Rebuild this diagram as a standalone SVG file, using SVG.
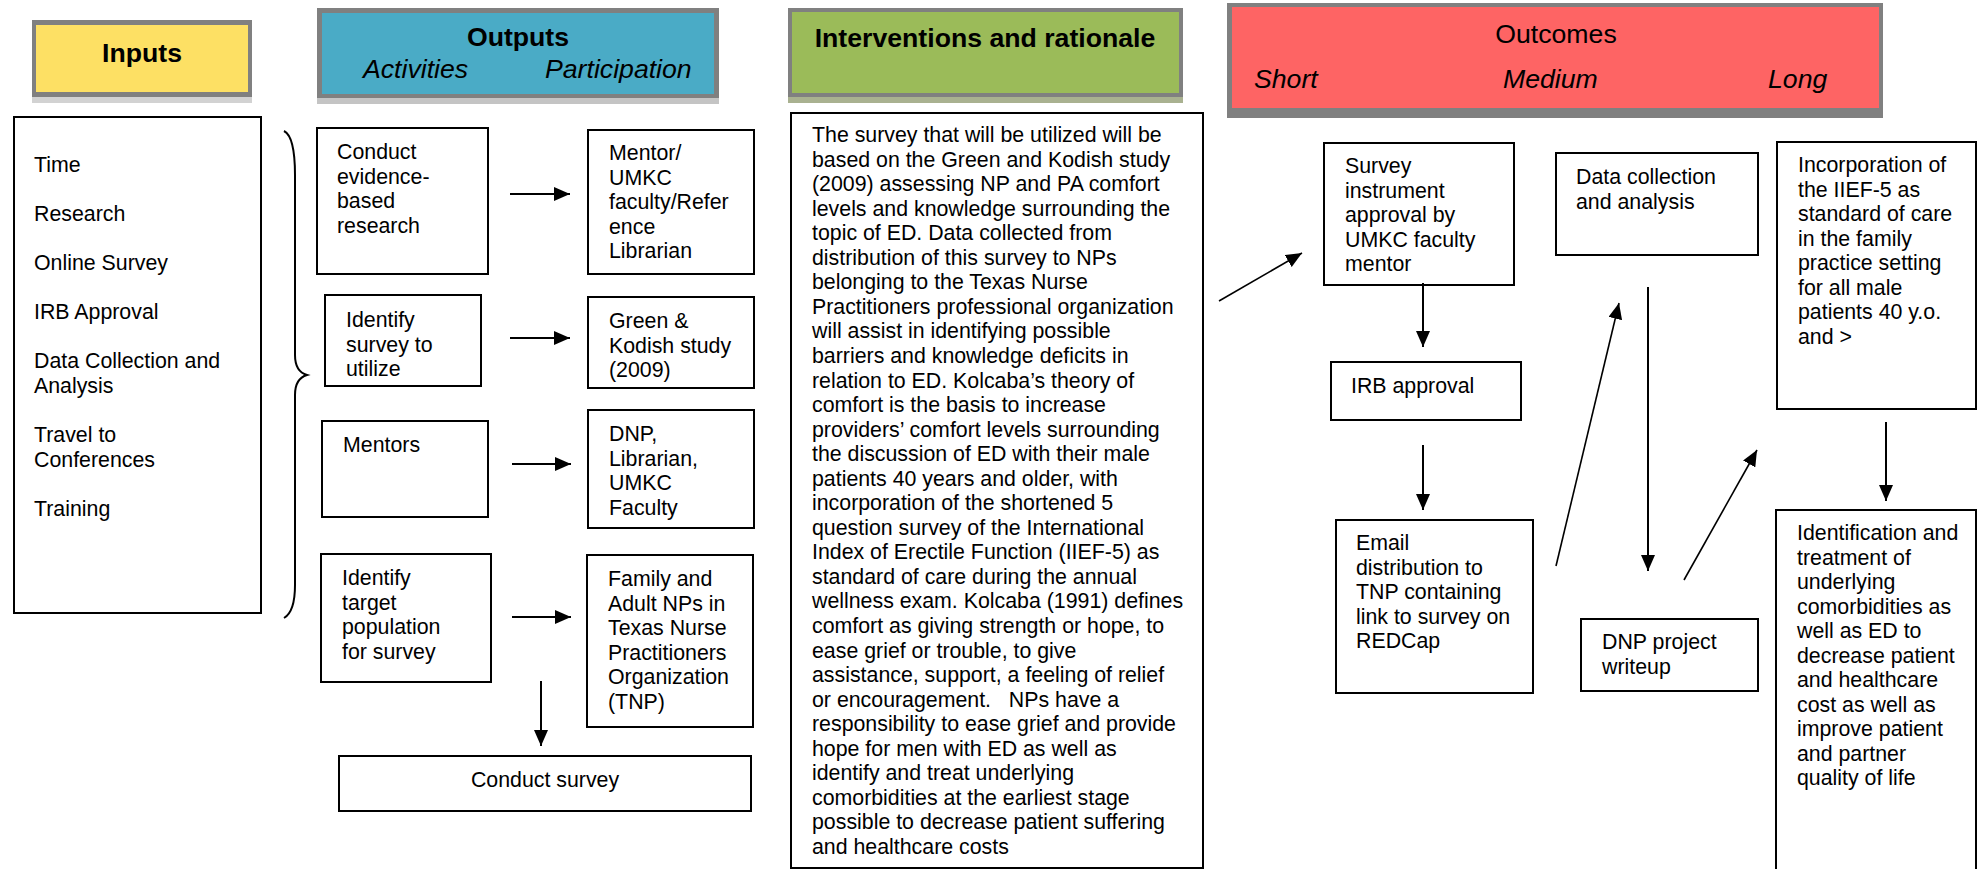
<svg xmlns="http://www.w3.org/2000/svg" width="1979" height="869" viewBox="0 0 1979 869">
<style>
  text { font-family: "Liberation Sans", Arial, sans-serif; fill: #000; }
  .t { font-size: 21.33px; }
  .h { font-size: 26.67px; }
  .b { font-weight: bold; }
  .i { font-style: italic; }
  .box { fill: #fff; stroke: #000; stroke-width: 2; }
  .frame { fill: #808080; }
  .conn line { stroke: #000; stroke-width: 2; }
  .conn path { fill: none; stroke: #000; stroke-width: 2; }
  .thin { stroke-width: 1.6 !important; }
</style>
<defs>
  <marker id="ah" markerUnits="userSpaceOnUse" markerWidth="16" markerHeight="14" refX="16" refY="7" orient="auto">
    <path d="M0,0 L16,7 L0,14 z" fill="#000"/>
  </marker>
</defs>
<rect width="1979" height="869" fill="#fff"/>

<!-- Headers -->
<g id="hdr-inputs">
  <rect x="32" y="97" width="220" height="6" fill="#d2d2d2"/>
  <rect class="frame" x="32" y="20" width="220" height="77"/>
  <rect x="36" y="25" width="212" height="67" fill="#fde064"/>
  <text class="h b" x="142" y="62" text-anchor="middle">Inputs</text>
</g>
<g id="hdr-outputs">
  <rect x="317" y="98" width="402" height="6" fill="#c4c4c4"/>
  <rect class="frame" x="317" y="8" width="402" height="90"/>
  <rect x="322" y="13" width="392" height="81" fill="#4aabc6"/>
  <text class="h b" x="518" y="46" text-anchor="middle">Outputs</text>
  <text class="h i" x="363" y="78">Activities</text>
  <text class="h i" x="545" y="78">Participation</text>
</g>
<g id="hdr-interventions">
  <rect x="788" y="97" width="395" height="6" fill="#a9b190"/>
  <rect class="frame" x="788" y="8" width="395" height="89"/>
  <rect x="792" y="12" width="387" height="81" fill="#9bbb59"/>
  <text class="h b" x="985" y="47" text-anchor="middle">Interventions and rationale</text>
</g>
<g id="hdr-outcomes">
  <rect class="frame" x="1227" y="3" width="656" height="115"/>
  <rect x="1232" y="7" width="647" height="101" fill="#fe6464"/>
  <text class="h" x="1556" y="43" text-anchor="middle">Outcomes</text>
  <text class="h i" x="1254" y="88">Short</text>
  <text class="h i" x="1503" y="88">Medium</text>
  <text class="h i" x="1768" y="88">Long</text>
</g>

<!-- Inputs list -->
<g id="inputs-list">
  <rect class="box" x="14" y="117" width="247" height="496"/>
  <text class="t" x="34" y="172">Time</text>
  <text class="t" x="34" y="221">Research</text>
  <text class="t" x="34" y="270">Online Survey</text>
  <text class="t" x="34" y="319">IRB Approval</text>
  <text class="t" x="34" y="368">Data Collection and</text>
  <text class="t" x="34" y="392.5">Analysis</text>
  <text class="t" x="34" y="442">Travel to</text>
  <text class="t" x="34" y="466.5">Conferences</text>
  <text class="t" x="34" y="516">Training</text>
</g>

<!-- Activities -->
<g id="act-research">
  <rect class="box" x="317" y="128" width="171" height="146"/>
  <text class="t" x="337" y="159">Conduct</text>
  <text class="t" x="337" y="183.5">evidence-</text>
  <text class="t" x="337" y="208">based</text>
  <text class="t" x="337" y="232.5">research</text>
</g>
<g id="par-mentor">
  <rect class="box" x="588" y="130" width="166" height="144"/>
  <text class="t" x="609" y="160">Mentor/</text>
  <text class="t" x="609" y="184.5">UMKC</text>
  <text class="t" x="609" y="209">faculty/Refer</text>
  <text class="t" x="609" y="233.5">ence</text>
  <text class="t" x="609" y="258">Librarian</text>
</g>
<g id="act-survey">
  <rect class="box" x="325" y="295" width="156" height="91"/>
  <text class="t" x="346" y="327">Identify</text>
  <text class="t" x="346" y="351.5">survey to</text>
  <text class="t" x="346" y="376">utilize</text>
</g>
<g id="par-green">
  <rect class="box" x="588" y="297" width="166" height="91"/>
  <text class="t" x="609" y="328">Green &amp;</text>
  <text class="t" x="609" y="352.5">Kodish study</text>
  <text class="t" x="609" y="377">(2009)</text>
</g>
<g id="act-mentors">
  <rect class="box" x="322" y="421" width="166" height="96"/>
  <text class="t" x="343" y="452">Mentors</text>
</g>
<g id="par-dnp">
  <rect class="box" x="588" y="410" width="166" height="118"/>
  <text class="t" x="609" y="441">DNP,</text>
  <text class="t" x="609" y="465.5">Librarian,</text>
  <text class="t" x="609" y="490">UMKC</text>
  <text class="t" x="609" y="514.5">Faculty</text>
</g>
<g id="act-target">
  <rect class="box" x="321" y="554" width="170" height="128"/>
  <text class="t" x="342" y="585">Identify</text>
  <text class="t" x="342" y="609.5">target</text>
  <text class="t" x="342" y="634">population</text>
  <text class="t" x="342" y="658.5">for survey</text>
</g>
<g id="par-family">
  <rect class="box" x="587" y="555" width="166" height="172"/>
  <text class="t" x="608" y="586">Family and</text>
  <text class="t" x="608" y="610.5">Adult NPs in</text>
  <text class="t" x="608" y="635">Texas Nurse</text>
  <text class="t" x="608" y="659.5">Practitioners</text>
  <text class="t" x="608" y="684">Organization</text>
  <text class="t" x="608" y="708.5">(TNP)</text>
</g>
<g id="act-conduct">
  <rect class="box" x="339" y="756" width="412" height="55"/>
  <text class="t" x="545" y="787" text-anchor="middle">Conduct survey</text>
</g>

<!-- Interventions text -->
<g id="interventions-text">
  <rect class="box" x="791" y="113" width="412" height="755"/>
  <text class="t" x="812" y="142">
    <tspan x="812" dy="0">The survey that will be utilized will be</tspan>
    <tspan x="812" dy="24.55">based on the Green and Kodish study</tspan>
    <tspan x="812" dy="24.55">(2009) assessing NP and PA comfort</tspan>
    <tspan x="812" dy="24.55">levels and knowledge surrounding the</tspan>
    <tspan x="812" dy="24.55">topic of ED. Data collected from</tspan>
    <tspan x="812" dy="24.55">distribution of this survey to NPs</tspan>
    <tspan x="812" dy="24.55">belonging to the Texas Nurse</tspan>
    <tspan x="812" dy="24.55">Practitioners professional organization</tspan>
    <tspan x="812" dy="24.55">will assist in identifying possible</tspan>
    <tspan x="812" dy="24.55">barriers and knowledge deficits in</tspan>
    <tspan x="812" dy="24.55">relation to ED. Kolcaba’s theory of</tspan>
    <tspan x="812" dy="24.55">comfort is the basis to increase</tspan>
    <tspan x="812" dy="24.55">providers’ comfort levels surrounding</tspan>
    <tspan x="812" dy="24.55">the discussion of ED with their male</tspan>
    <tspan x="812" dy="24.55">patients 40 years and older, with</tspan>
    <tspan x="812" dy="24.55">incorporation of the shortened 5</tspan>
    <tspan x="812" dy="24.55">question survey of the International</tspan>
    <tspan x="812" dy="24.55">Index of Erectile Function (IIEF-5) as</tspan>
    <tspan x="812" dy="24.55">standard of care during the annual</tspan>
    <tspan x="812" dy="24.55">wellness exam. Kolcaba (1991) defines</tspan>
    <tspan x="812" dy="24.55">comfort as giving strength or hope, to</tspan>
    <tspan x="812" dy="24.55">ease grief or trouble, to give</tspan>
    <tspan x="812" dy="24.55">assistance, support, a feeling of relief</tspan>
    <tspan x="812" dy="24.55" xml:space="preserve">or encouragement.   NPs have a</tspan>
    <tspan x="812" dy="24.55">responsibility to ease grief and provide</tspan>
    <tspan x="812" dy="24.55">hope for men with ED as well as</tspan>
    <tspan x="812" dy="24.55">identify and treat underlying</tspan>
    <tspan x="812" dy="24.55">comorbidities at the earliest stage</tspan>
    <tspan x="812" dy="24.55">possible to decrease patient suffering</tspan>
    <tspan x="812" dy="24.55">and healthcare costs</tspan>
  </text>
</g>

<!-- Outcomes -->
<g id="out-survey">
  <rect class="box" x="1324" y="143" width="190" height="142"/>
  <text class="t" x="1345" y="173">Survey</text>
  <text class="t" x="1345" y="197.5">instrument</text>
  <text class="t" x="1345" y="222">approval by</text>
  <text class="t" x="1345" y="246.5">UMKC faculty</text>
  <text class="t" x="1345" y="271">mentor</text>
</g>
<g id="out-irb">
  <rect class="box" x="1331" y="362" width="190" height="58"/>
  <text class="t" x="1351" y="393">IRB approval</text>
</g>
<g id="out-email">
  <rect class="box" x="1336" y="520" width="197" height="173"/>
  <text class="t" x="1356" y="550">Email</text>
  <text class="t" x="1356" y="574.5">distribution to</text>
  <text class="t" x="1356" y="599">TNP containing</text>
  <text class="t" x="1356" y="623.5">link to survey on</text>
  <text class="t" x="1356" y="648">REDCap</text>
</g>
<g id="out-data">
  <rect class="box" x="1556" y="153" width="202" height="102"/>
  <text class="t" x="1576" y="184">Data collection</text>
  <text class="t" x="1576" y="208.5">and analysis</text>
</g>
<g id="out-dnp">
  <rect class="box" x="1581" y="619" width="177" height="72"/>
  <text class="t" x="1602" y="649">DNP project</text>
  <text class="t" x="1602" y="673.5">writeup</text>
</g>
<g id="out-incorporation">
  <rect class="box" x="1777" y="142" width="199" height="267"/>
  <text class="t" x="1798" y="172">Incorporation of</text>
  <text class="t" x="1798" y="196.5">the IIEF-5 as</text>
  <text class="t" x="1798" y="221">standard of care</text>
  <text class="t" x="1798" y="245.5">in the family</text>
  <text class="t" x="1798" y="270">practice setting</text>
  <text class="t" x="1798" y="294.5">for all male</text>
  <text class="t" x="1798" y="319">patients 40 y.o.</text>
  <text class="t" x="1798" y="343.5">and &gt;</text>
</g>
<g id="out-identification">
  <rect class="box" x="1776" y="510" width="200" height="370"/>
  <text class="t" x="1797" y="540">Identification and</text>
  <text class="t" x="1797" y="564.5">treatment of</text>
  <text class="t" x="1797" y="589">underlying</text>
  <text class="t" x="1797" y="613.5">comorbidities as</text>
  <text class="t" x="1797" y="638">well as ED to</text>
  <text class="t" x="1797" y="662.5">decrease patient</text>
  <text class="t" x="1797" y="687">and healthcare</text>
  <text class="t" x="1797" y="711.5">cost as well as</text>
  <text class="t" x="1797" y="736">improve patient</text>
  <text class="t" x="1797" y="760.5">and partner</text>
  <text class="t" x="1797" y="785">quality of life</text>
</g>

<!-- Connectors -->
<g id="connectors" class="conn">
  <path d="M284,131 C292,135 295,150 295,175 L295,355 C295,368 300,373 307,375 C300,377 295,382 295,395 L295,585 C295,605 291,614 284,618"/>
  <line x1="510" y1="194" x2="570" y2="194" marker-end="url(#ah)"/>
  <line x1="510" y1="338" x2="570" y2="338" marker-end="url(#ah)"/>
  <line x1="512" y1="464" x2="571" y2="464" marker-end="url(#ah)"/>
  <line x1="512" y1="617" x2="571" y2="617" marker-end="url(#ah)"/>
  <line x1="541" y1="681" x2="541" y2="746" marker-end="url(#ah)"/>
  <line class="thin" x1="1219" y1="301" x2="1302" y2="253" marker-end="url(#ah)"/>
  <line x1="1423" y1="283" x2="1423" y2="347" marker-end="url(#ah)"/>
  <line x1="1423" y1="445" x2="1423" y2="510" marker-end="url(#ah)"/>
  <line class="thin" x1="1556" y1="566" x2="1619" y2="303" marker-end="url(#ah)"/>
  <line x1="1648" y1="287" x2="1648" y2="571" marker-end="url(#ah)"/>
  <line class="thin" x1="1684" y1="580" x2="1757" y2="450" marker-end="url(#ah)"/>
  <line x1="1886" y1="422" x2="1886" y2="501" marker-end="url(#ah)"/>
</g>
</svg>
